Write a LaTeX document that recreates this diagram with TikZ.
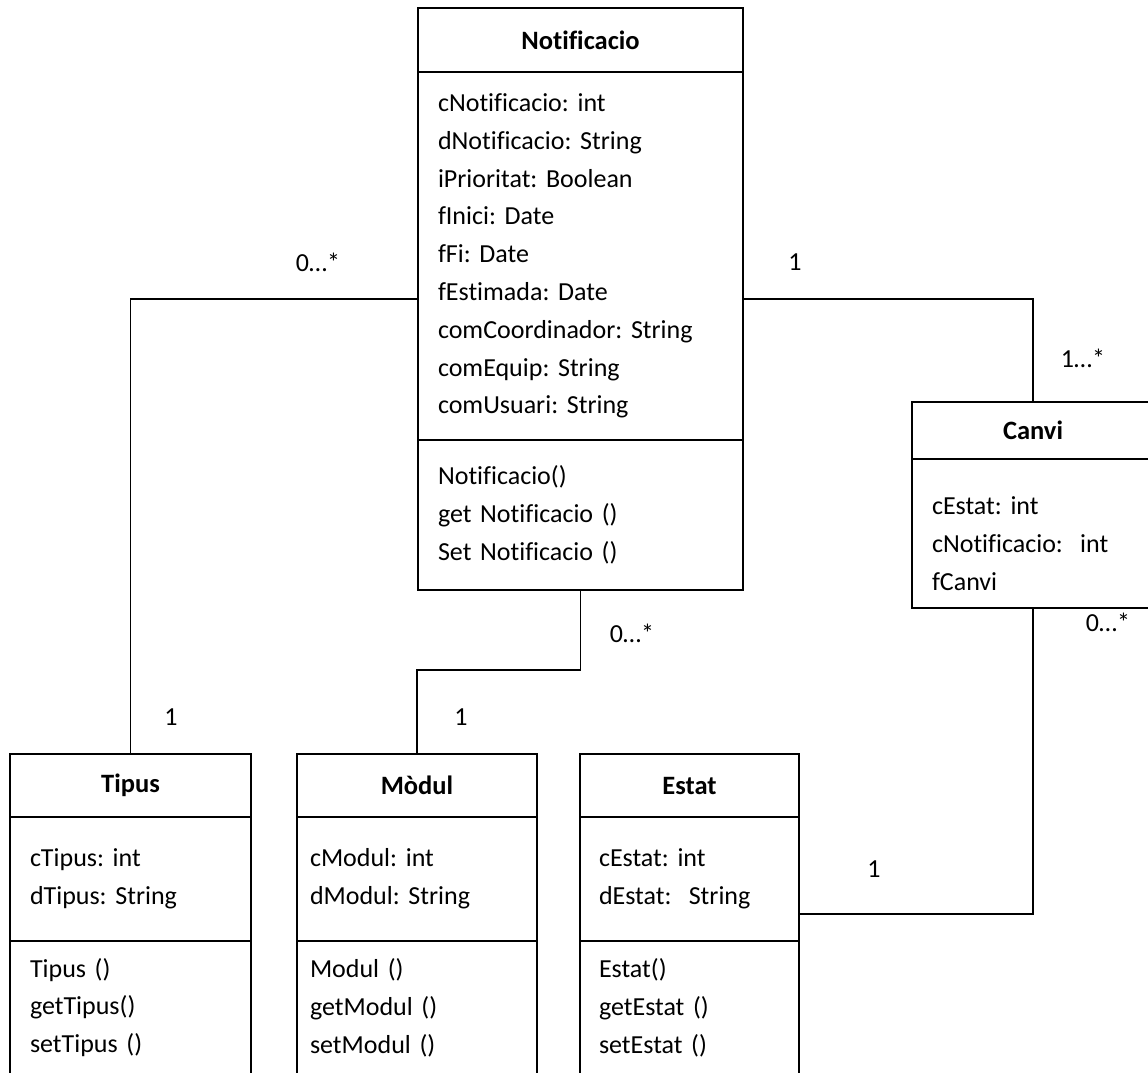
\documentclass[tikz,border=0pt]{standalone}
\usepackage{fontspec}
\setmainfont{Carlito}[Ligatures=NoCommon]
\usetikzlibrary{positioning,fit}

\begin{document}
\frenchspacing
\begin{tikzpicture}[x=1pt, y=1pt, line width=1.8pt]
    % Stili
    \tikzstyle{every node}=[font=\fontsize{26}{37.8}\selectfont]
    \tikzstyle{classname}=[rectangle, draw=black, outer sep=0pt, inner sep=0pt, text centered, font=\fontsize{26.5}{37.8}\selectfont\bfseries]
    \tikzstyle{part}=[rectangle, draw=black, outer sep=0pt, inner xsep=20pt, inner ysep=0pt, align=left]
    \tikzstyle{frame}=[inner sep=0pt, outer sep=0pt]
    \tikzstyle{link}=[draw=black, line width=1.8pt]

    \useasboundingbox (0,0) rectangle (1148,-1072);

    % Notificacio
    \node (notif) [classname, minimum width=325, minimum height=64, anchor=north west] at (418,-8) {Notificacio};
    \node (notif-attr) [part, text width=285, minimum height=368, below=0pt of notif]
        {cNotificacio: int\\dNotificacio: String\\iPrioritat: Boolean\\fInici: Date\\fFi: Date\\fEstimada: Date\\comCoordinador: String\\comEquip: String\\comUsuari: String};
    \node (notif-meth) [part, text width=285, minimum height=150, below=0pt of notif-attr]
        {Notificacio()\\get Notificacio ()\\Set Notificacio ()};
    \node (notif-box) [frame, fit=(notif)(notif-meth)] {};

    % Canvi
    \node (canvi) [classname, minimum width=242, minimum height=57, anchor=north west] at (912,-402) {Canvi};
    \node (canvi-attr) [part, text width=202, minimum height=149, below=0pt of canvi]
        {\mbox{}\\[0pt]cEstat: int\\cNotificacio:\ \ int\\fCanvi};
    \node (canvi-box) [frame, fit=(canvi)(canvi-attr)] {};

    % Tipus
    \node (tipus) [classname, minimum width=241, minimum height=63, anchor=north west] at (10,-754) {Tipus};
    \node (tipus-attr) [part, text width=201, minimum height=124, below=0pt of tipus]
        {cTipus: int\\dTipus: String};
    \node (tipus-meth) [part, text width=201, minimum height=133, below=0pt of tipus-attr]
        {Tipus ()\\getTipus()\\setTipus ()};
    \node (tipus-box) [frame, fit=(tipus)(tipus-meth)] {};

    % Modul
    \node (modul) [classname, minimum width=240, minimum height=63, anchor=north west] at (297,-754) {Mòdul};
    \node (modul-attr) [part, inner xsep=13pt, text width=214, minimum height=124, below=0pt of modul]
        {cModul: int\\dModul: String};
    \node (modul-meth) [part, inner xsep=13pt, text width=214, minimum height=133, below=0pt of modul-attr]
        {Modul ()\\getModul ()\\setModul ()};
    \node (modul-box) [frame, fit=(modul)(modul-meth)] {};

    % Estat
    \node (estat) [classname, minimum width=219, minimum height=63, anchor=north west] at (580,-754) {Estat};
    \node (estat-attr) [part, inner xsep=19pt, text width=181, minimum height=124, below=0pt of estat]
        {cEstat: int\\dEstat:\ \ String};
    \node (estat-meth) [part, inner xsep=19pt, text width=181, minimum height=133, below=0pt of estat-attr]
        {Estat()\\getEstat ()\\setEstat ()};
    \node (estat-box) [frame, fit=(estat)(estat-meth)] {};

    % Collegamenti
    \draw [link] (notif-box.west) -| (tipus-box.north);
    \draw [link] (notif-box.east) -| (canvi-box.north);
    \draw [link] (notif-box.south) -- ++(0,-80) -| (modul-box.north);
    \draw [link] (canvi-box.south) |- (estat-box.east);

    % Multiplicitat
    \node (m-nt) at (318,-262) {0…*};
    \node (m-tn) at (171,-717) {1};
    \node (m-nc) at (795,-262) {1};
    \node (m-cn) at (1083,-358) {1…*};
    \node (m-nm) at (632,-633) {0…*};
    \node (m-mn) at (461,-717) {1};
    \node (m-ce) at (1108,-622) {0…*};
    \node (m-ec) at (874,-869) {1};
\end{tikzpicture}
\end{document}
